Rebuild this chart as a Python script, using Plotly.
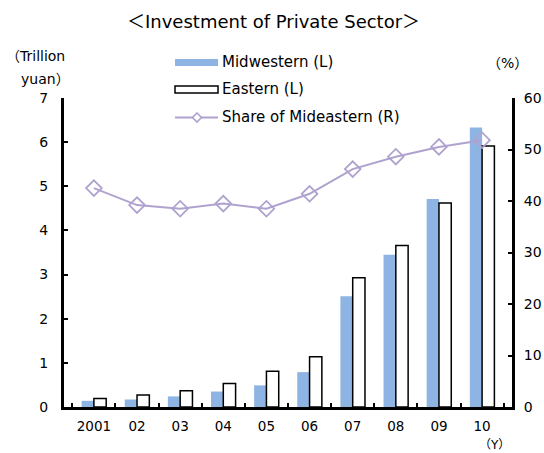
import plotly.graph_objects as go

years = ["2001", "02", "03", "04", "05", "06", "07", "08", "09", "10"]
midwestern = [0.14, 0.17, 0.24, 0.35, 0.49, 0.79, 2.51, 3.45, 4.71, 6.33]
eastern = [0.19, 0.27, 0.37, 0.53, 0.81, 1.14, 2.93, 3.66, 4.62, 5.91]
share = [42.5, 39.2, 38.5, 39.5, 38.5, 41.4, 46.2, 48.6, 50.5, 51.8]

FONT = "DejaVu Sans"
CJK = "Noto Sans CJK JP"
W, H = 544, 453
L, R, T, B = 64, 32, 98, 46
PW, PH = W - L - R, H - T - B

def px(x):
    return (x - L) / PW

def py(y):
    return (H - B - y) / PH

def fw(ch):
    return '<span style="font-family:\'{}\'">{}</span>'.format(CJK, ch)

BLUE = "#8db4e2"
PURPLE = "#b0a2cf"

fig = go.Figure()
fig.add_trace(go.Bar(x=years, y=midwestern, name="Midwestern (L)",
                     marker=dict(color=BLUE, line=dict(width=0)), yaxis="y"))
fig.add_trace(go.Bar(x=years, y=eastern, name="Eastern (L)",
                     marker=dict(color="white", line=dict(color="black", width=1.5)), yaxis="y"))
fig.add_trace(go.Scatter(x=years, y=share, name="Share of Mideastern (R)", yaxis="y2",
                         mode="lines+markers",
                         line=dict(color=PURPLE, width=2),
                         marker=dict(symbol="diamond-open", size=12, color=PURPLE,
                                     line=dict(width=1.8, color=PURPLE))))

axis_font = dict(family=FONT, size=14, color="black")

fig.update_layout(
    width=W, height=H,
    margin=dict(l=L, r=R, t=T, b=B, pad=0, autoexpand=False),
    paper_bgcolor="white", plot_bgcolor="white",
    showlegend=False,
    barmode="group", bargap=0.43, bargroupgap=0,
    font=dict(family=FONT, size=14, color="black"),
    xaxis=dict(type="category", showline=True, linecolor="black", linewidth=3,
               ticks="inside", ticklen=4, tickwidth=2, tickcolor="black",
               tickson="boundaries", showgrid=False,
               tickfont=dict(family=FONT, size=13.5, color="black"),
               tickangle=0, automargin=False, zeroline=False, ticklabelstandoff=5),
    yaxis=dict(range=[0, 7], dtick=1, showline=True, linecolor="black", linewidth=3,
               ticks="inside", ticklen=4, tickwidth=2, tickcolor="black",
               showgrid=False, zeroline=False, tickfont=axis_font,
               ticklabelstandoff=10, automargin=False),
    yaxis2=dict(range=[0, 60], dtick=10, overlaying="y", side="right",
                showline=True, linecolor="black", linewidth=3,
                ticks="inside", ticklen=4, tickwidth=2, tickcolor="black",
                showgrid=False, zeroline=False, tickfont=axis_font,
                ticklabelstandoff=6, automargin=False),
)

annotations = [
    dict(text=fw("＜") + "Investment of Private Sector" + fw("＞"), x=px(273), y=py(20),
         xref="paper", yref="paper",
         showarrow=False, font=dict(family=FONT, size=18, color="black"),
         xanchor="center", yanchor="middle"),
    dict(text=fw("（") + "Trillion", x=px(4), y=py(55), xref="paper", yref="paper", showarrow=False,
         xanchor="left", yanchor="middle", font=dict(family=FONT, size=14)),
    dict(text="yuan" + fw("）"), x=px(72), y=py(78), xref="paper", yref="paper", showarrow=False,
         xanchor="right", yanchor="middle", font=dict(family=FONT, size=14)),
    dict(text=fw("（") + "%" + fw("）"), x=px(507), y=py(62), xref="paper", yref="paper",
         showarrow=False, xanchor="center", yanchor="middle", font=dict(family=FONT, size=14)),
    dict(text=fw("（") + "Y" + fw("）"), x=px(494), y=py(443), xref="paper", yref="paper",
         showarrow=False, xanchor="center", yanchor="middle", font=dict(family=FONT, size=12)),
    dict(text="Midwestern (L)", x=px(220), y=py(62), xref="paper", yref="paper", showarrow=False,
         xanchor="left", yanchor="middle", font=dict(family=FONT, size=15)),
    dict(text="Eastern (L)", x=px(220), y=py(89), xref="paper", yref="paper", showarrow=False,
         xanchor="left", yanchor="middle", font=dict(family=FONT, size=15)),
    dict(text="Share of Mideastern (R)", x=px(220), y=py(117), xref="paper", yref="paper",
         showarrow=False, xanchor="left", yanchor="middle", font=dict(family=FONT, size=15)),
]

dx, dy = 4.5, 4.5
cx, cy = 197, 117.5
diamond = "M {} {} L {} {} L {} {} L {} {} Z".format(
    px(cx), py(cy - dy), px(cx + dx), py(cy), px(cx), py(cy + dy), px(cx - dx), py(cy))

shapes = [
    dict(type="rect", xref="paper", yref="paper", x0=px(175), x1=px(218), y0=py(66), y1=py(59),
         fillcolor=BLUE, line=dict(width=0)),
    dict(type="rect", xref="paper", yref="paper", x0=px(175), x1=px(218), y0=py(93), y1=py(86),
         fillcolor="white", line=dict(color="black", width=1.5)),
    dict(type="line", xref="paper", yref="paper", x0=px(175), x1=px(218), y0=py(117.5), y1=py(117.5),
         line=dict(color=PURPLE, width=2)),
    dict(type="path", xref="paper", yref="paper", path=diamond, fillcolor="white",
         line=dict(color=PURPLE, width=1.6)),
]

fig.update_layout(annotations=annotations, shapes=shapes)
fig.write_html("out.html")
